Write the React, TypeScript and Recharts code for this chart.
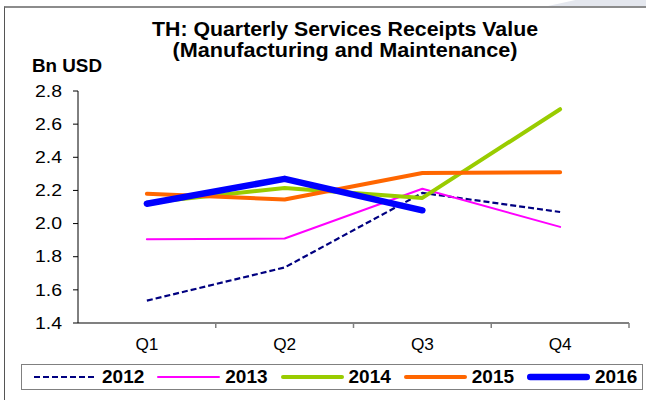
import React from 'react';
import { LineChart, Line, XAxis, YAxis } from 'recharts';

const quarters = ['Q1', 'Q2', 'Q3', 'Q4'];
const s2012 = [1.535, 1.735, 2.185, 2.07];
const s2013 = [1.905, 1.91, 2.21, 1.98];
const s2014 = [2.125, 2.215, 2.155, 2.69];
const s2015 = [2.18, 2.145, 2.305, 2.31];
const s2016 = [2.12, 2.27, 2.08, null];
const yTicks = [1.4, 1.6, 1.8, 2.0, 2.2, 2.4, 2.6, 2.8];
const titleLines = ['TH: Quarterly Services Receipts Value', '(Manufacturing and Maintenance)'];
const yUnit = 'Bn USD';

const series = [
  { key: 'y2012', name: '2012', values: s2012, color: '#000080', width: 2.2, dash: '6 3' },
  { key: 'y2013', name: '2013', values: s2013, color: '#FF00FF', width: 2, dash: undefined },
  { key: 'y2014', name: '2014', values: s2014, color: '#99CC00', width: 4, dash: undefined },
  { key: 'y2015', name: '2015', values: s2015, color: '#FF6600', width: 4, dash: undefined },
  { key: 'y2016', name: '2016', values: s2016, color: '#0000FF', width: 6.5, dash: undefined },
];

const data = quarters.map((q, i) => {
  const row: Record<string, any> = { q };
  series.forEach((s) => {
    row[s.key] = s.values[i];
  });
  return row;
});

const FONT = '"Liberation Sans", Arial, Helvetica, sans-serif';

const XTick = (props: any) => {
  const { x, y, payload, width, visibleTicksCount } = props;
  const bw = width && visibleTicksCount ? width / visibleTicksCount : 137.75;
  const axisY = y - 8;
  return (
    <g>
      <line x1={x + bw / 2} x2={x + bw / 2} y1={axisY} y2={axisY + 5} stroke="#808080" strokeWidth={1.5} />
      <text x={x} y={y} dy={19} textAnchor="middle" fill="#000" fontSize={17} fontFamily={FONT} textLength={23} lengthAdjust="spacingAndGlyphs">
        {payload.value}
      </text>
    </g>
  );
};

const YTick = (props: any) => {
  const { x, y, payload } = props;
  const label = Number(payload.value).toFixed(1);
  return (
    <text x={x - 1} y={y} dy={5.7} textAnchor="end" fill="#000" fontSize={16} fontFamily={FONT} textLength={27} lengthAdjust="spacingAndGlyphs">
      {label}
    </text>
  );
};

export default function App() {
  return (
    <div style={{ position: 'absolute', left: 0, top: 0, width: 646, height: 400, background: '#fff', overflow: 'hidden', fontFamily: FONT }}>
      <div style={{ position: 'absolute', left: 548, top: 0, width: 98, height: 6, background: '#e4e7ee', clipPath: 'polygon(28% 0, 100% 0, 100% 100%, 0 100%)' }} />
      <div style={{ position: 'absolute', left: 4, top: 6, width: 660, height: 410, borderTop: '2px solid #8c8c8c', borderLeft: '1px solid #555', boxSizing: 'border-box' }} />
      <div style={{ position: 'absolute', left: 0, top: 0 }}>
        <LineChart width={646} height={400} data={data} margin={{ top: 91, right: 17, bottom: 47, left: 0 }}>
          <XAxis
            dataKey="q"
            scale="band"
            interval={0}
            tickLine={false}
            axisLine={{ stroke: '#808080', strokeWidth: 2 }}
            tick={<XTick />}
          />
          <YAxis
            type="number"
            width={78}
            domain={[1.4, 2.8]}
            ticks={yTicks}
            allowDataOverflow
            interval={0}
            axisLine={{ stroke: '#000', strokeWidth: 1 }}
            tickLine={{ stroke: '#000', strokeWidth: 1 }}
            tickSize={5}
            tickMargin={10}
            tick={<YTick />}
          />
          {series.map((s) => (
            <Line
              key={s.key}
              dataKey={s.key}
              name={s.name}
              stroke={s.color}
              strokeWidth={s.width}
              strokeDasharray={s.dash}
              strokeLinejoin="round"
              strokeLinecap={s.dash ? 'butt' : 'round'}
              dot={false}
              activeDot={false}
              isAnimationActive={false}
              connectNulls={false}
            />
          ))}
        </LineChart>
      </div>
      <svg width={646} height={400} style={{ position: 'absolute', left: 0, top: 0, pointerEvents: 'none' }}>
        <text x={345} y={36} textAnchor="middle" fontSize={20} fontWeight="bold" fontFamily={FONT} textLength={386} lengthAdjust="spacingAndGlyphs">
          {titleLines[0]}
        </text>
        <text x={345} y={57} textAnchor="middle" fontSize={20} fontWeight="bold" fontFamily={FONT} textLength={345} lengthAdjust="spacingAndGlyphs">
          {titleLines[1]}
        </text>
        <text x={32} y={72} fontSize={18} fontWeight="bold" fontFamily={FONT} textLength={70} lengthAdjust="spacingAndGlyphs">
          {yUnit}
        </text>
      </svg>
      <div
        style={{
          position: 'absolute',
          left: 21,
          top: 364,
          width: 622,
          height: 26,
          border: '1px solid #808080',
          boxSizing: 'border-box',
          display: 'flex',
          alignItems: 'center',
          paddingLeft: 12,
        }}
      >
        {series.map((s) => (
          <div key={s.key} style={{ width: 123.25, display: 'flex', alignItems: 'center', flexShrink: 0 }}>
            <svg width={63} height={10} style={{ display: 'block' }}>
              <line
                x1={s.dash ? 0 : s.width / 2}
                x2={s.dash ? 63 : 63 - s.width / 2}
                y1={5}
                y2={5}
                stroke={s.color}
                strokeWidth={s.width}
                strokeDasharray={s.dash}
                strokeLinecap={s.dash ? 'butt' : 'round'}
              />
            </svg>
            <span style={{ marginLeft: 5, fontSize: 19, fontWeight: 'bold', color: '#000', lineHeight: '20px' }}>{s.name}</span>
          </div>
        ))}
      </div>
    </div>
  );
}
